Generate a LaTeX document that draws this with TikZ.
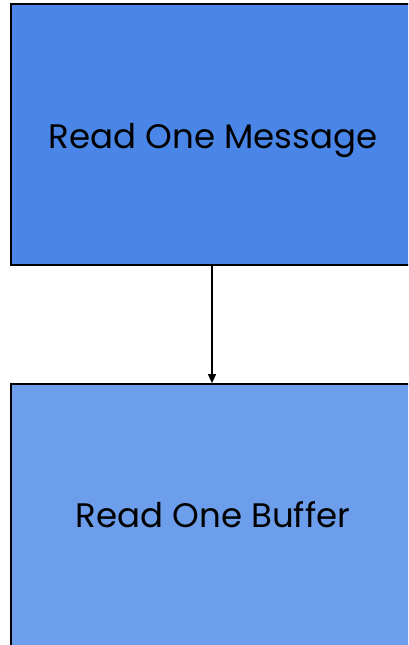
\documentclass[tikz,border=0pt]{standalone}
\usepackage{fontspec}
\setmainfont{Poppins}
\usetikzlibrary{arrows.meta}
\definecolor{boxA}{HTML}{4A86E8}
\definecolor{boxB}{HTML}{6D9EEB}
\tikzset{
  procbox/.style={draw=black, line width=1.8pt, minimum width=402pt, inner sep=0pt},
  boxlabel/.style={anchor=base, inner sep=0pt, font=\fontsize{34}{40}\selectfont},
  flow/.style={draw=black, line width=1.2pt, -{Triangle[length=9pt,width=8pt]}}
}
\begin{document}
\begin{tikzpicture}[x=1pt,y=-1pt]
\useasboundingbox (0,0) rectangle (408,645);
\fill[white] (0,0) rectangle (408,645);
\begin{scope}
\clip (0,0) rectangle (408,645);
\node[procbox, fill=boxA, minimum height=261pt] (msg) at (212,134.5) {};
\node[procbox, fill=boxB, minimum height=280pt] (buf) at (212,524) {};
\node[boxlabel] (msgtext) at (213,148) {Read One Message};
\node[boxlabel] (buftext) at (213,527) {Read One Buffer};
\draw[flow] (msg.south) -- (buf.north);
\end{scope}
\end{tikzpicture}
\end{document}
